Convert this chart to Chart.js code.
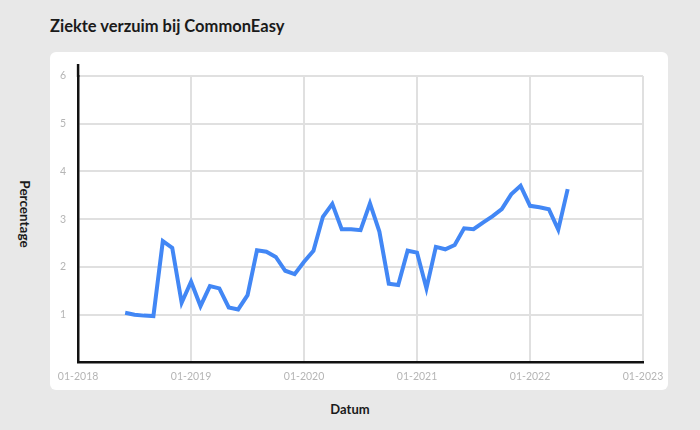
<!DOCTYPE html>
<html>
<head>
<meta charset="utf-8">
<script src="https://cdn.jsdelivr.net/npm/chart.js@4"></script>
<style>
  html, body { margin: 0; padding: 0; }
  body { width: 700px; height: 430px; background: #e8e8e8; position: relative; overflow: hidden; font-family: Lato, sans-serif; }
  #title { position: absolute; left: 50px; top: 16px; font-size: 16.5px; font-weight: 700; color: #1a1a1a; }
  #card { position: absolute; left: 50px; top: 52px; width: 618px; height: 338px; background: #fff; border-radius: 6px; }
  #ytitle { position: absolute; left: 25px; top: 214px; transform: translate(-50%, -50%) rotate(90deg); font-size: 13.5px; font-weight: 700; color: #1a1a1a; white-space: nowrap; }
  #xtitle { position: absolute; left: 350px; top: 409px; transform: translate(-50%, -50%); font-size: 13px; font-weight: 700; color: #1a1a1a; white-space: nowrap; }
  #wrap { position: absolute; left: 0; top: 0; width: 700px; height: 430px; }
</style>
</head>
<body>
<div id="title">Ziekte verzuim bij CommonEasy</div>
<div id="card"></div>
<div id="ytitle">Percentage</div>
<div id="xtitle">Datum</div>
<div id="wrap"><canvas id="myChart"></canvas></div>
<script>
//========== data ==========//

// maanden (YYYY-MM)
const months = [
  '2018-06', '2018-07', '2018-08', '2018-09', '2018-10', '2018-11', '2018-12',
  '2019-01', '2019-02', '2019-03', '2019-04', '2019-05', '2019-06', '2019-07', '2019-08', '2019-09', '2019-10', '2019-11', '2019-12',
  '2020-01', '2020-02', '2020-03', '2020-04', '2020-05', '2020-06', '2020-07', '2020-08', '2020-09', '2020-10', '2020-11', '2020-12',
  '2021-01', '2021-02', '2021-03', '2021-04', '2021-05', '2021-06', '2021-07', '2021-08', '2021-09', '2021-10', '2021-11', '2021-12',
  '2022-01', '2022-02', '2022-03', '2022-04', '2022-05'
];

// ziekteverzuim in procent (per maand)
const verzuim = [
  1.04, 1.00, 0.98, 0.97, 2.54, 2.40, 1.25,
  1.69, 1.18, 1.60, 1.55, 1.15, 1.11, 1.41, 2.35, 2.32, 2.21, 1.92, 1.85,
  2.11, 2.34, 3.05, 3.32, 2.79, 2.79, 2.77, 3.33, 2.74, 1.65, 1.62, 2.34,
  2.30, 1.55, 2.42, 2.37, 2.46, 2.81, 2.79, 2.93, 3.06, 3.21, 3.52, 3.70,
  3.28, 3.25, 3.21, 2.78, 3.63
];

// x-as labels
const startYear = 2018;
const yearTicks = ['01-2018', '01-2019', '01-2020', '01-2021', '01-2022', '01-2023'];

// maand -> index vanaf 01-2018
function monthIndex(m) {
  const [y, mm] = m.split('-').map(Number);
  return (y - startYear) * 12 + (mm - 1);
}

const points = months.map((m, i) => ({ x: monthIndex(m), y: verzuim[i] }));

//========== plugin: y-as iets doortrekken ==========//
const axisExtend = {
  id: 'axisExtend',
  afterDraw(chart) {
    const { ctx, chartArea } = chart;
    ctx.save();
    ctx.strokeStyle = '#111';
    ctx.lineWidth = 2.5;
    ctx.beginPath();
    ctx.moveTo(chartArea.left, chartArea.top - 12);
    ctx.lineTo(chartArea.left, chartArea.top + 1);
    ctx.stroke();
    ctx.restore();
  }
};

//========== config ==========//
const tickFont = { family: 'Lato', size: 10.5 };
const gridColor = '#e0e0e0';

const config = {
  type: 'line',
  data: {
    datasets: [{
      label: 'Verzuim',
      data: points,
      borderColor: '#4287f5',
      borderWidth: 4,
      pointRadius: 0,
      tension: 0,
      fill: false
    }]
  },
  options: {
    responsive: false,
    animation: false,
    layout: { padding: { left: 48, right: 57, top: 76, bottom: 39 } },
    plugins: {
      legend: { display: false },
      tooltip: { enabled: false }
    },
    scales: {
      x: {
        type: 'linear',
        min: 0,
        max: 60,
        ticks: {
          stepSize: 12,
          padding: 8,
          color: '#b5b5b5',
          font: tickFont,
          callback: v => yearTicks[v / 12]
        },
        grid: { color: gridColor, lineWidth: 2, drawTicks: false },
        border: { color: '#111', width: 2.5 }
      },
      y: {
        min: 0,
        max: 6,
        ticks: {
          stepSize: 1,
          padding: 12,
          color: '#b5b5b5',
          font: tickFont,
          callback: v => v === 0 ? '' : v
        },
        grid: { color: gridColor, lineWidth: 2, drawTicks: false },
        border: { color: '#111', width: 2.5 }
      }
    }
  },
  plugins: [axisExtend]
};

// render
const canvas = document.getElementById('myChart');
canvas.width = 700;
canvas.height = 430;
const myChart = new Chart(canvas, config);
</script>
</body>
</html>
